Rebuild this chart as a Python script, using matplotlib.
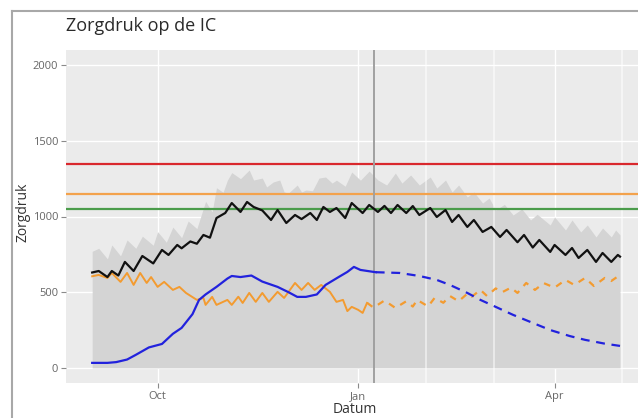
import numpy as np
import pandas as pd
import matplotlib
matplotlib.use('Agg')
import matplotlib.pyplot as plt
import matplotlib.dates as mdates
from matplotlib.lines import Line2D

plt.rcParams['font.family'] = ['Open Sans', 'DejaVu Sans']

# Startdatum van de reeksen, alle dagen zijn offsets hiervan
start = pd.Timestamp('2021-09-01')

# Bovengrens van de onzekerheidsband
band_dagen = [0, 3, 7, 9, 13, 16, 20, 23, 28, 30, 34, 37, 41, 44, 48, 52, 55, 57, 60, 62,
              64, 68, 72, 74, 78, 80, 83, 86, 88, 90, 94, 96, 98, 101, 104, 107, 110, 112, 116, 119,
              123, 127, 131, 135, 139, 142, 146, 150, 155, 158, 162, 165, 168, 172, 175, 179, 182, 185, 189, 193,
              197, 201, 204, 210, 212, 217, 220, 224, 227, 231, 234, 238, 240, 242]
band_boven = [770, 790, 720, 812, 740, 845, 790, 870, 810, 900, 830, 930, 860, 970, 920, 1100, 1030, 1190, 1160, 1240,
              1290, 1250, 1307, 1241, 1254, 1195, 1228, 1241, 1162, 1155, 1208, 1162, 1175, 1170, 1254, 1261, 1221, 1240, 1200, 1294,
              1240, 1300, 1241, 1208, 1287, 1221, 1274, 1208, 1261, 1188, 1241, 1162, 1208, 1129, 1162, 1089, 1122, 1043, 1080, 1010,
              1050, 977, 1015, 944, 997, 911, 977, 898, 944, 865, 924, 865, 911, 878]

# Totale zorgdruk (zwart)
totaal_dagen = [0, 3, 7, 9, 12, 15, 19, 23, 28, 32, 35, 39, 41, 45, 48, 51, 54, 57, 61, 64,
                68, 71, 74, 78, 82, 85, 89, 93, 96, 100, 103, 106, 109, 112, 116, 119, 124, 127, 131, 134,
                137, 140, 144, 147, 150, 155, 158, 162, 165, 168, 172, 175, 179, 183, 187, 190, 195, 198, 202, 205,
                210, 212, 217, 220, 223, 227, 231, 234, 238, 241, 242]
totaal = [630, 640, 600, 640, 610, 700, 640, 739, 690, 779, 746, 812, 790, 835, 820, 878, 860, 990, 1023, 1089,
          1030, 1096, 1063, 1040, 977, 1043, 957, 1010, 983, 1023, 977, 1063, 1030, 1056, 990, 1089, 1023, 1076, 1030, 1070,
          1023, 1076, 1023, 1069, 1010, 1056, 997, 1043, 964, 1010, 931, 977, 898, 931, 865, 911, 830, 878, 795, 845,
          766, 812, 746, 792, 726, 779, 700, 759, 700, 746, 735]

# Oranje: gemeten en voorspeld
oranje_dagen = [0, 3, 7, 9, 13, 16, 19, 22, 25, 27, 30, 33, 37, 40, 43, 48, 51, 52, 55, 57,
                62, 64, 67, 69, 72, 75, 78, 81, 85, 88, 93, 96, 99, 102, 105, 109, 112, 115, 117, 119,
                122, 124, 126]
oranje = [605, 614, 594, 627, 568, 627, 548, 627, 561, 600, 535, 568, 515, 535, 495, 449, 462, 416, 469, 416,
          449, 416, 470, 429, 495, 436, 495, 436, 502, 462, 561, 515, 561, 515, 548, 502, 436, 449, 375, 403,
          383, 363, 429]
oranje_prog_dagen = [126, 129, 134, 139, 144, 147, 149, 154, 157, 161, 164, 168, 172, 174, 178, 181, 185, 188, 192, 195,
                     199, 203, 207, 212, 217, 221, 226, 230, 235, 238, 242]
oranje_prog = [430, 398, 445, 396, 440, 405, 449, 406, 462, 430, 475, 440, 490, 470, 515, 475, 525, 500, 530, 495,
               561, 515, 560, 530, 581, 548, 594, 541, 594, 574, 614]

# Blauw: gemeten en voorspeld
blauw_dagen = [0, 7, 11, 16, 20, 26, 32, 37, 41, 46, 49, 52, 57, 62, 64, 68, 73, 78, 85, 90,
               94, 98, 103, 107, 113, 117, 120, 123, 129, 130]
blauw = [33, 33, 38, 55, 86, 135, 158, 225, 264, 355, 449, 485, 535, 590, 607, 600, 610, 570, 535, 500,
         469, 469, 485, 548, 600, 634, 667, 647, 634, 632]
blauw_prog_dagen = [130, 141, 150, 158, 164, 172, 178, 185, 193, 202, 210, 219, 226, 235, 242]
blauw_prog = [632, 627, 607, 581, 548, 495, 449, 403, 350, 297, 250, 210, 185, 160, 145]

# Drempels
drempels = [1350, 1150, 1050]
drempel_kleuren = ['#d9282d', '#f3a24c', '#4b9c4b']

vandaag = pd.Timestamp('2022-01-08')
extra_lijnen = ['2022-02-01', '2022-03-04', '2022-05-02']


def datums(dagen):
    return start + pd.to_timedelta(dagen, unit='D')


fig = plt.figure(figsize=(6.38, 4.18), dpi=100)
ax = fig.add_axes([66 / 638, 1 - 383 / 418, (644 - 66) / 638, (383 - 50) / 418])
ax.set_facecolor('#ebebeb')
for s in ax.spines.values():
    s.set_visible(False)

ax.set_xlim(start - pd.Timedelta(days=12), start + pd.Timedelta(days=253))
ax.set_ylim(-100, 2100)
ax.set_yticks([0, 500, 1000, 1500, 2000])
ax.xaxis.set_major_locator(mdates.MonthLocator(bymonth=[1, 4, 10]))
ax.xaxis.set_major_formatter(mdates.DateFormatter('%b'))
ax.grid(True, color='white', lw=1.0, zorder=0)
ax.set_axisbelow(True)
ax.tick_params(axis='both', length=3.5, width=0.8, color='#8a8a8a', labelsize=8,
               labelcolor='#666666', pad=2)

ax.fill_between(datums(band_dagen), 0, band_boven, color='#d4d4d4', lw=0, zorder=1)

for d in extra_lijnen:
    ax.axvline(pd.Timestamp(d), color='white', alpha=0.6, lw=1.2, zorder=2)

for y, c in zip(drempels, drempel_kleuren):
    ax.axhline(y, color=c, lw=1.6, zorder=3)

ax.axvline(vandaag, color='#a0a0a0', lw=1.4, zorder=3)

ax.plot(datums(totaal_dagen), totaal, color='#111111', lw=1.6, zorder=5)
ax.plot(datums(oranje_dagen), oranje, color='#f39b30', lw=1.4, zorder=4)
ax.plot(datums(oranje_prog_dagen), oranje_prog, color='#f39b30', lw=1.6, ls=(0, (3, 3)), zorder=4)
ax.plot(datums(blauw_dagen), blauw, color='#2222dd', lw=1.6, zorder=4)
ax.plot(datums(blauw_prog_dagen), blauw_prog, color='#2222dd', lw=1.6, ls=(0, (4, 3)), zorder=4)

fig.text(66 / 638, 1 - 31 / 418, 'Zorgdruk op de IC', fontsize=13, color='#2a2a2a',
         ha='left', va='baseline')
fig.text(23 / 638, 1 - 212 / 418, 'Zorgdruk', rotation=90, fontsize=10, color='#333333',
         ha='center', va='center')
fig.text(355 / 638, 1 - 417 / 418, 'Datum', fontsize=10, color='#333333',
         ha='center', va='bottom')

# rand rond de grafiek
fig.add_artist(Line2D([12 / 638, 12 / 638], [0, 1 - 10.5 / 418], transform=fig.transFigure,
                      color='#a8a8a8', lw=1.5))
fig.add_artist(Line2D([12 / 638, 1], [1 - 10.5 / 418, 1 - 10.5 / 418], transform=fig.transFigure,
                      color='#a8a8a8', lw=1.5))

fig.savefig('out.png', dpi=100)
